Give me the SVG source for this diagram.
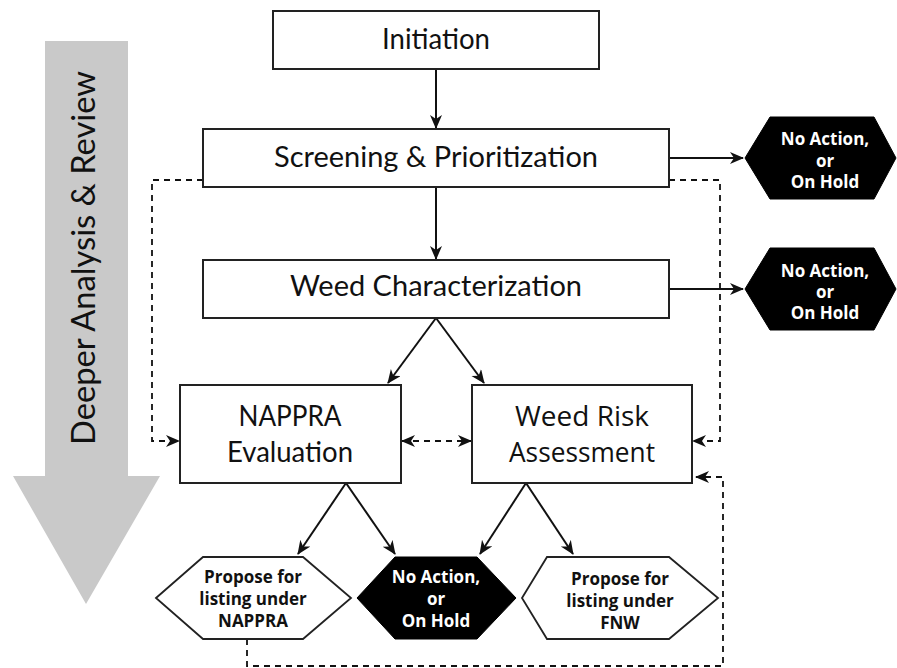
<svg xmlns="http://www.w3.org/2000/svg" width="897" height="668" viewBox="0 0 897 668">
<style>
.box{fill:#fff;stroke:#222;stroke-width:2}
.hexb{fill:#000;stroke:#000;stroke-width:1}
.hexw{fill:#fff;stroke:#222;stroke-width:1.8}
.lbl{font-family:Lato,"Liberation Sans",sans-serif;font-weight:normal;fill:#111;text-anchor:middle}
.lbl2{font-family:"Open Sans","Liberation Sans",sans-serif;fill:#111;text-anchor:middle}
.hb{font-family:"Open Sans","Liberation Sans",sans-serif;font-weight:bold;font-size:17px;text-anchor:middle}
.w{fill:#fff}
.k{fill:#111}
.c{fill:none;stroke:#111;stroke-width:2}
.d{fill:none;stroke:#111;stroke-width:1.8;stroke-dasharray:6 5}
</style>
<defs>
<marker id="ah" markerUnits="userSpaceOnUse" markerWidth="16" markerHeight="14" refX="13" refY="6" orient="auto-start-reverse">
<path d="M0,0 L14,6 L0,12 L4,6 z" fill="#111"/>
</marker>
</defs>
<g id="deeper-arrow">
<polygon points="45,41 128,41 128,476 160,476 86,604 13,476 45,476" fill="#c9c9c9"/>
<text class="lbl" font-size="32" transform="translate(95,258) rotate(-90)" textLength="374" lengthAdjust="spacingAndGlyphs">Deeper Analysis &amp; Review</text>
</g>
<g id="connectors">
<line class="c" x1="436" y1="69" x2="436" y2="128" marker-end="url(#ah)"/>
<line class="c" x1="436" y1="187" x2="436" y2="259" marker-end="url(#ah)"/>
<line class="c" x1="669" y1="158" x2="743" y2="158" marker-end="url(#ah)"/>
<line class="c" x1="669" y1="289" x2="743" y2="289" marker-end="url(#ah)"/>
<line class="c" x1="436" y1="318" x2="388" y2="383" marker-end="url(#ah)"/>
<line class="c" x1="436" y1="318" x2="484" y2="383" marker-end="url(#ah)"/>
<line class="c" x1="346" y1="483" x2="298" y2="554" marker-end="url(#ah)"/>
<line class="c" x1="346" y1="483" x2="395" y2="554" marker-end="url(#ah)"/>
<line class="c" x1="526" y1="483" x2="480" y2="554" marker-end="url(#ah)"/>
<line class="c" x1="526" y1="483" x2="573" y2="554" marker-end="url(#ah)"/>
<polyline class="d" points="203,180 152,180 152,441 179,441" marker-end="url(#ah)"/>
<polyline class="d" points="669,180 720,180 720,441 693,441" marker-end="url(#ah)"/>
<line class="d" x1="402" y1="441" x2="471" y2="441" marker-start="url(#ah)" marker-end="url(#ah)"/>
<polyline class="d" points="247,639 247,666 723,666 723,477 696,477" marker-end="url(#ah)"/>
</g>
<g id="initiation">
<rect class="box" x="273" y="11" width="326" height="58"/>
<text class="lbl" x="436" y="49" font-size="29" textLength="108" lengthAdjust="spacingAndGlyphs">Initiation</text>
</g>
<g id="screening">
<rect class="box" x="203" y="129" width="466" height="58"/>
<text class="lbl" x="436" y="167" font-size="28" textLength="324" lengthAdjust="spacingAndGlyphs">Screening &amp; Prioritization</text>
</g>
<g id="characterization">
<rect class="box" x="203" y="260" width="466" height="58"/>
<text class="lbl" x="436" y="296" font-size="28" textLength="292" lengthAdjust="spacingAndGlyphs">Weed Characterization</text>
</g>
<g id="nappra">
<rect class="box" x="180" y="385" width="221" height="98"/>
<text class="lbl" x="290" y="426" font-size="28" textLength="103" lengthAdjust="spacingAndGlyphs">NAPPRA</text>
<text class="lbl" x="290" y="462" font-size="28" textLength="126" lengthAdjust="spacingAndGlyphs">Evaluation</text>
</g>
<g id="wra">
<rect class="box" x="472" y="385" width="220" height="98"/>
<text class="lbl2" x="582" y="426" font-size="27" textLength="134" lengthAdjust="spacingAndGlyphs">Weed Risk</text>
<text class="lbl2" x="582" y="462" font-size="27" textLength="146" lengthAdjust="spacingAndGlyphs">Assessment</text>
</g>
<g id="noaction1">
<polygon class="hexb" points="745,158 770,117 874,117 896,158 874,199 770,199"/>
<text class="hb w" x="825" y="145">No Action,</text>
<text class="hb w" x="825" y="167">or</text>
<text class="hb w" x="825" y="188">On Hold</text>
</g>
<g id="noaction2">
<polygon class="hexb" points="745,289 770,248 874,248 896,289 874,330 770,330"/>
<text class="hb w" x="825" y="277">No Action,</text>
<text class="hb w" x="825" y="298">or</text>
<text class="hb w" x="825" y="319">On Hold</text>
</g>
<g id="propose-nappra">
<polygon class="hexw" points="156,598 203,557 303,557 351,598 303,639 203,639"/>
<text class="hb k" x="253" y="583">Propose for</text>
<text class="hb k" x="253" y="605">listing under</text>
<text class="hb k" x="253" y="627">NAPPRA</text>
</g>
<g id="noaction3">
<polygon class="hexb" points="357,598 395,557 477,557 516,598 477,639 395,639"/>
<text class="hb w" x="436" y="583">No Action,</text>
<text class="hb w" x="436" y="605">or</text>
<text class="hb w" x="436" y="627">On Hold</text>
</g>
<g id="propose-fnw">
<polygon class="hexw" points="522,598 547,557 669,557 718,598 669,639 547,639"/>
<text class="hb k" x="620" y="585">Propose for</text>
<text class="hb k" x="620" y="607">listing under</text>
<text class="hb k" x="620" y="629">FNW</text>
</g>
</svg>
